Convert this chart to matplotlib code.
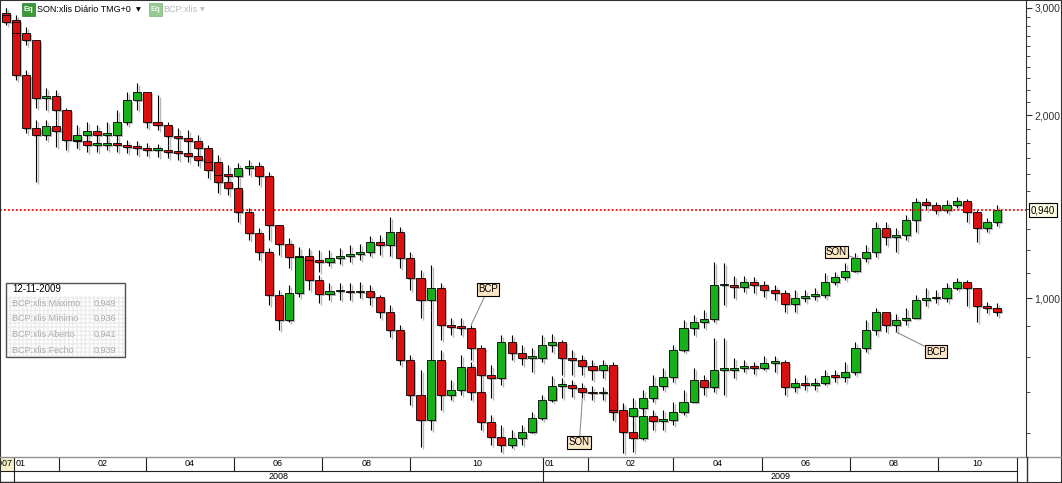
import matplotlib
matplotlib.use("Agg")
from matplotlib import pyplot as plt
import matplotlib.dates as mdates
import matplotlib.transforms as mtransforms
from matplotlib.ticker import FixedLocator, FuncFormatter, NullFormatter
from matplotlib.patches import Rectangle
from matplotlib.lines import Line2D
import numpy as np
import pandas as pd

plt.rcParams['font.family'] = ['Liberation Sans', 'DejaVu Sans']

# weekly candles, one per week starting Wed 26-12-2007
week_start = '2007-12-26'
n_weeks = 99

son_open0 = 2946
son_close = [2867, 2327, 1904, 1855, 1919, 1883, 1841, 1813, 1786, 1786,
             1800, 1786, 1772, 1766, 1752, 1752, 1739, 1732, 1713, 1687,
             1624, 1552, 1517, 1385, 1279, 1191, 1011, 920, 1019, 1168,
             1071, 1015, 1027, 1027, 1023, 1027, 1004, 948, 886, 791,
             692, 630, 791, 692, 706, 771, 700, 625, 591, 573,
             589, 603, 635, 680, 717, 720, 712, 700, 698, 698,
             649, 640, 660, 684, 717, 742, 822, 893, 913, 924,
             1050, 1050, 1042, 1062, 1050, 1031, 1019, 978, 1000, 1008,
             1011, 1062, 1083, 1108, 1164, 1191, 1303, 1260, 1270, 1344,
             1439, 1422, 1396, 1422, 1444, 1385, 1303, 1334, 1396]
son_high = [3000, 2923, 2372, 1963, 1963, 1963, 1926, 1876, 1834, 1834,
            1841, 1834, 1820, 1813, 1800, 1793, 1786, 1772, 1759, 1739,
            1719, 1656, 1594, 1535, 1406, 1303, 1208, 1031, 1050, 1208,
            1200, 1091, 1058, 1058, 1058, 1062, 1050, 1011, 974, 903,
            806, 762, 956, 822, 733, 806, 786, 720, 642, 618,
            607, 618, 649, 692, 745, 740, 733, 725, 717, 714,
            712, 672, 684, 706, 748, 769, 837, 920, 938, 956,
            1146, 1142, 1087, 1087, 1083, 1066, 1050, 1031, 1031, 1031,
            1039, 1099, 1104, 1142, 1186, 1222, 1334, 1334, 1303, 1369,
            1461, 1461, 1439, 1450, 1467, 1456, 1396, 1354, 1422]
son_low = [2846, 2284, 1869, 1552, 1820, 1772, 1786, 1766, 1739, 1739,
           1752, 1739, 1732, 1719, 1713, 1706, 1700, 1687, 1674, 1649,
           1576, 1489, 1478, 1334, 1246, 1155, 974, 886, 913, 1004,
           1031, 981, 993, 993, 993, 1000, 974, 927, 863, 777,
           667, 569, 607, 654, 680, 692, 680, 607, 573, 558,
           567, 573, 600, 630, 675, 684, 687, 684, 680, 680,
           630, 603, 618, 649, 675, 706, 728, 816, 869, 893,
           913, 974, 1000, 1023, 1019, 1004, 993, 948, 948, 985,
           993, 1000, 1050, 1071, 1104, 1146, 1168, 1222, 1191, 1246,
           1284, 1396, 1375, 1380, 1406, 1334, 1236, 1284, 1313]

bcp_open0 = 2923
bcp_close = [2846, 2729, 2658, 2134, 2150, 2039, 1820, 1855, 1883, 1855,
             1855, 1948, 2117, 2183, 1948, 1926, 1848, 1834, 1813, 1766,
             1674, 1594, 1588, 1637, 1649, 1588, 1318, 1227, 1168, 1173,
             1155, 1146, 1164, 1173, 1182, 1191, 1236, 1222, 1284, 1164,
             1079, 993, 1039, 903, 896, 893, 828, 748, 740, 847,
             812, 797, 797, 837, 847, 797, 791, 774, 762, 777,
             654, 603, 589, 640, 628, 630, 649, 675, 733, 714,
             762, 762, 769, 771, 769, 783, 786, 714, 725, 720,
             725, 745, 742, 756, 828, 886, 948, 903, 920, 927,
             993, 1000, 1000, 1039, 1062, 1039, 970, 963, 948]
bcp_high = [3000, 2890, 2793, 2638, 2216, 2199, 2054, 1926, 1948, 1926,
            1948, 2039, 2183, 2258, 2158, 2158, 1948, 1904, 1890, 1855,
            1786, 1719, 1656, 1668, 1687, 1674, 1612, 1318, 1255, 1213,
            1208, 1200, 1200, 1208, 1222, 1227, 1265, 1270, 1359, 1308,
            1191, 1112, 1133, 1058, 927, 927, 903, 837, 777, 869,
            869, 837, 828, 869, 872, 853, 822, 806, 791, 791,
            786, 667, 625, 667, 654, 654, 675, 706, 769, 748,
            860, 860, 797, 791, 786, 803, 803, 791, 740, 748,
            740, 762, 762, 786, 847, 920, 963, 938, 941, 963,
            1011, 1039, 1031, 1058, 1079, 1071, 1039, 985, 981]
bcp_low = [2814, 2658, 2609, 2054, 2039, 1963, 1752, 1766, 1786, 1786,
           1786, 1820, 1926, 2039, 1904, 1890, 1786, 1766, 1752, 1719,
           1637, 1535, 1517, 1506, 1594, 1535, 1246, 1177, 1120, 1112,
           1104, 1104, 1129, 1138, 1146, 1155, 1173, 1177, 1173, 1120,
           1031, 927, 956, 853, 869, 869, 791, 720, 684, 720,
           791, 777, 756, 786, 816, 748, 748, 748, 733, 740,
           630, 556, 558, 584, 607, 607, 618, 642, 692, 692,
           700, 692, 740, 756, 751, 762, 756, 692, 700, 706,
           706, 720, 728, 728, 748, 816, 869, 880, 880, 903,
           938, 970, 981, 985, 1031, 970, 913, 945, 934]

last_label = '0,940'
info_date = '12-11-2009'
info_rows = [('BCP:xlis Máximo', '0,949'), ('BCP:xlis Mínimo', '0,936'),
             ('BCP:xlis Aberto', '0,941'), ('BCP:xlis Fecho', '0,939')]
label_months = [1, 2, 4, 6, 8, 10]

W, H = 1062, 483
fig = plt.figure(figsize=(W / 100, H / 100), dpi=100)


def fx(px):
    return px / W


def fy(py):
    return 1 - py / H


dates = pd.date_range(week_start, periods=n_weeks, freq='7D')
x = mdates.date2num(dates)
x0 = mdates.date2num(pd.Timestamp('2007-12-22'))
x1 = x0 + 710
table_end = mdates.date2num(pd.Timestamp('2009-11-25'))

ax = fig.add_axes([0, fy(457), fx(1026), 457 / H])
ax.set_yscale('log')


def draw_candles(close, high, low, open0):
    close = np.array(close, float)
    opn = np.r_[open0, close[:-1]]
    hi = np.maximum(np.array(high, float), np.maximum(opn, close))
    lo = np.minimum(np.array(low, float), np.minimum(opn, close))
    bot = np.minimum(opn, close)
    top = np.maximum(np.maximum(opn, close), bot * 1.006)
    cols = np.where(close >= opn, '#18b018', '#d81010')
    shadow = ax.transData + mtransforms.ScaledTranslation(2 / 100, -2 / 100, fig.dpi_scale_trans)
    ax.vlines(x, lo, hi, colors='#b8b8b8', lw=1.0, transform=shadow, zorder=1)
    ax.bar(x, top - bot, bottom=bot, width=5.6, color='#b8b8b8', lw=0, transform=shadow, zorder=1)
    ax.vlines(x, lo, hi, colors='black', lw=0.8, zorder=2)
    ax.bar(x, top - bot, bottom=bot, width=5.6, color=cols, edgecolor='black', lw=0.6, zorder=3)


draw_candles(son_close, son_high, son_low, son_open0)
draw_candles(bcp_close, bcp_high, bcp_low, bcp_open0)

ax.set_xlim(x0, x1)
ax.set_ylim(548, 3092)
ax.set_xticks([])
ax.yaxis.set_major_locator(FixedLocator([1000, 2000, 3000]))
ax.yaxis.set_major_formatter(FuncFormatter(lambda v, p: f'{v:,.0f}'))
ax.yaxis.set_minor_locator(FixedLocator(np.arange(600, 3001, 100)))
ax.yaxis.set_minor_formatter(NullFormatter())
ax.tick_params(axis='y', which='both', left=False, labelleft=False, right=True,
               labelright=True, direction='out', colors='#303030', labelsize=7.5, pad=2)
ax.tick_params(axis='y', which='major', length=4)
ax.tick_params(axis='y', which='minor', length=3)
for s in ['left', 'top', 'bottom']:
    ax.spines[s].set_visible(False)
ax.spines['right'].set_color('#303030')

# last price line
level = son_close[-1]
ax.axhline(level, color='#ff0000', ls=(0, (1, 1.2)), lw=1.3, zorder=4)
ax.annotate(last_label, xy=(1, level), xycoords=('axes fraction', 'data'),
            xytext=(5, 0), textcoords='offset pixels', va='center', ha='left', fontsize=7,
            bbox=dict(boxstyle='square,pad=0.2', fc='#ffffe6', ec='black', lw=0.8),
            annotation_clip=False)

# series labels
lab = dict(fontsize=7, ha='center', va='center', textcoords='offset pixels',
           bbox=dict(boxstyle='square,pad=0.15', fc='#fde6c6', ec='black', lw=0.8),
           arrowprops=dict(arrowstyle='-', color='#909090', lw=0.8, shrinkA=0, shrinkB=0))
ax.annotate('BCP', xy=(x[46], bcp_high[46]), xytext=(17, 36), **lab)
ax.annotate('SON', xy=(x[57], son_low[57]), xytext=(-3, -44), **lab)
ax.annotate('SON', xy=(x[84], son_close[84]), xytext=(-19, 6), **lab)
ax.annotate('BCP', xy=(x[88], bcp_low[88]), xytext=(40, -20), **lab)

# date table
dax = fig.add_axes([0, fy(482), fx(1026), 25 / H])
dax.set_xlim(x0, x1)
dax.set_ylim(0, 25)
dax.axis('off')
jan08 = mdates.date2num(pd.Timestamp('2008-01-01'))
dax.add_patch(Rectangle((x0, 11), jan08 - x0, 14, fc='#f6f2c8', ec='none'))
dax.text(jan08 - 1.5, 18, '2007', ha='right', va='center', fontsize=6.5)
dax.plot([x0, table_end], [11, 11], color='#202020', lw=0.8)
dax.plot([x0, table_end], [0.3, 0.3], color='#202020', lw=1)
for year in [2008, 2009]:
    starts = [pd.Timestamp(year, m, 1) for m in label_months]
    ends = starts[1:] + [pd.Timestamp(year + 1, 1, 1)]
    for s, e in zip(starts, ends):
        a = mdates.date2num(s)
        b = min(mdates.date2num(e), table_end)
        dax.plot([a, a], [0 if s.month == 1 else 11, 25], color='#202020', lw=0.8)
        if b - a > 40:
            dax.text((a + b) / 2, 18, s.strftime('%m'), ha='center', va='center', fontsize=6.5)
        else:
            dax.text(a + 1, 18, s.strftime('%m'), ha='left', va='center', fontsize=6.5)
    a = mdates.date2num(pd.Timestamp(year, 1, 1))
    b = min(mdates.date2num(pd.Timestamp(year + 1, 1, 1)), table_end)
    dax.text((a + b) / 2, 5.5, str(year), ha='center', va='center', fontsize=6.5)
dax.plot([table_end, table_end], [0, 25], color='#202020', lw=0.8)

# frame lines
fig.add_artist(Line2D([0, 1], [fy(457), fy(457)], color='#909090', lw=1))
fig.add_artist(Line2D([fx(1026.5), fx(1026.5)], [0, fy(457)], color='#303030', lw=1))
fig.add_artist(Rectangle((0, 0), 1, 1, transform=fig.transFigure, fill=False,
                         ec='#303030', lw=1.5))

# top legend
fig.add_artist(Rectangle((fx(22), fy(16)), fx(13), 13 / H, fc='#3a9a3a', ec='#2a7a2a', lw=0.5))
fig.text(fx(28.5), fy(9.5), 'Eq', color='white', fontsize=5.5, fontweight='bold', ha='center', va='center')
fig.text(fx(37), fy(9.5), 'SON:xlis Diário TMG+0', fontsize=6.5, ha='left', va='center')
fig.text(fx(138), fy(9.5), '▼', fontsize=4.5, ha='center', va='center', family='DejaVu Sans')
fig.add_artist(Rectangle((fx(149), fy(16)), fx(13), 13 / H, fc='#94cc94', ec='#7ab07a', lw=0.5))
fig.text(fx(155.5), fy(9.5), 'Eq', color='#e8f4e8', fontsize=5.5, fontweight='bold', ha='center', va='center')
fig.text(fx(163), fy(9.5), 'BCP:xlis', fontsize=6.5, color='#b8b8b8', ha='left', va='center')
fig.text(fx(202), fy(9.5), '▼', fontsize=4.5, color='#c0c0c0', ha='center', va='center', family='DejaVu Sans')

# info box
fig.add_artist(Rectangle((fx(6), fy(357)), fx(119), 74 / H, fc='white', ec='none'))
fig.add_artist(Rectangle((fx(6), fy(357)), fx(119), 61 / H, fc='white', ec='#ececec',
                         hatch='++++', lw=0))
fig.add_artist(Rectangle((fx(6), fy(357)), fx(119), 74 / H, fill=False, ec='#505050', lw=1))
fig.text(fx(12), fy(289.5), info_date, fontsize=7, ha='left', va='center')
for i, (name, val) in enumerate(info_rows):
    yy = 303 + i * 15.8
    fig.text(fx(12), fy(yy), name, fontsize=6.5, color='#ababab', ha='left', va='center')
    fig.text(fx(116), fy(yy), val, fontsize=6.5, color='#ababab', ha='right', va='center')

fig.savefig('out.png', dpi=100)
